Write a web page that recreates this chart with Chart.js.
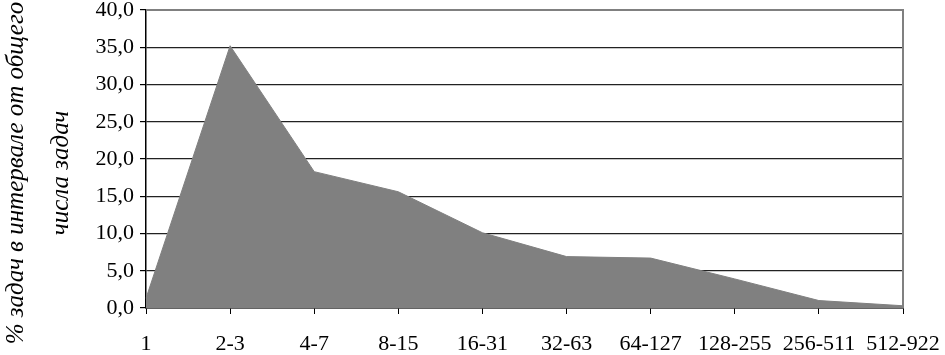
<!DOCTYPE html>
<html>
<head>
<meta charset="utf-8">
<script src="https://cdn.jsdelivr.net/npm/chart.js@4"></script>
<style>
  html, body { margin: 0; padding: 0; background: #fff; }
  #wrap { width: 945px; height: 355px; position: relative; }
</style>
</head>
<body>
<div id="wrap"><canvas id="myAreaChart"></canvas></div>
<script>
const intervalos = ['1', '2-3', '4-7', '8-15', '16-31', '32-63', '64-127', '128-255', '256-511', '512-922'];
const porcentajes = [1.3, 35.2, 18.3, 15.6, 10.1, 6.9, 6.7, 3.9, 1.0, 0.3];
const tituloY = ['% задач в интервале от общего', 'числа задач'];

// подпись оси Y в две строки, курсивом
const tituloEjeY = {
  id: 'tituloEjeY',
  afterDraw(chart) {
    const ctx = chart.ctx;
    const area = chart.chartArea;
    const centroY = (area.top + area.bottom) / 2 + 14;
    ctx.save();
    ctx.font = 'italic 25px "Liberation Serif"';
    ctx.fillStyle = '#000';
    ctx.textAlign = 'center';
    ctx.textBaseline = 'middle';
    [16, 61].forEach((x, i) => {
      ctx.save();
      ctx.translate(x, centroY);
      ctx.rotate(-Math.PI / 2);
      ctx.fillText(tituloY[i], 0, 0);
      ctx.restore();
    });
    ctx.restore();
  }
};

// рамка сверху и справа
const marco = {
  id: 'marco',
  afterDraw(chart) {
    const ctx = chart.ctx;
    const a = chart.chartArea;
    ctx.save();
    ctx.strokeStyle = '#808080';
    ctx.lineWidth = 2;
    ctx.beginPath();
    ctx.moveTo(a.left, a.top);
    ctx.lineTo(a.right, a.top);
    ctx.lineTo(a.right, a.bottom);
    ctx.stroke();
    ctx.restore();
  }
};

var ctx = document.getElementById('myAreaChart').getContext('2d');

const myAreaChart = new Chart(ctx, {
  type: 'line',
  data: {
    labels: intervalos,
    datasets: [{
      data: porcentajes,
      backgroundColor: '#808080',
      borderColor: '#808080',
      borderWidth: 1,
      fill: 'origin',
      pointRadius: 0,
      tension: 0
    }]
  },
  options: {
    responsive: true,
    maintainAspectRatio: false,
    animation: false,
    layout: { padding: { top: 10, right: 42, left: 0, bottom: 0 } },
    scales: {
      x: {
        offset: false,
        grid: {
          drawOnChartArea: false,
          drawTicks: true,
          tickLength: 6,
          tickColor: '#000'
        },
        border: { color: '#000', width: 1.5 },
        ticks: {
          color: '#000',
          font: { family: '"Liberation Serif"', size: 22 },
          padding: 17,
          maxRotation: 0,
          autoSkip: false
        },
        afterFit(scale) {
          scale.height = 47;
          scale.paddingLeft = 0;
          scale.paddingRight = 0;
        }
      },
      y: {
        min: 0,
        max: 40,
        grid: {
          color: c => c.tick && c.tick.value === 40 ? '#808080' : '#222',
          lineWidth: 1.2,
          drawTicks: true,
          tickLength: 6,
          tickColor: '#000'
        },
        border: { color: '#000', width: 1.5 },
        ticks: {
          stepSize: 5,
          color: '#000',
          font: { family: '"Liberation Serif"', size: 22 },
          padding: 6,
          callback: v => v.toFixed(1).replace('.', ',')
        },
        afterFit(scale) {
          scale.width = 146;
          scale.paddingTop = 0;
          scale.paddingBottom = 0;
        }
      }
    },
    plugins: {
      legend: { display: false },
      tooltip: { enabled: false }
    }
  },
  plugins: [tituloEjeY, marco]
});
</script>
</body>
</html>
